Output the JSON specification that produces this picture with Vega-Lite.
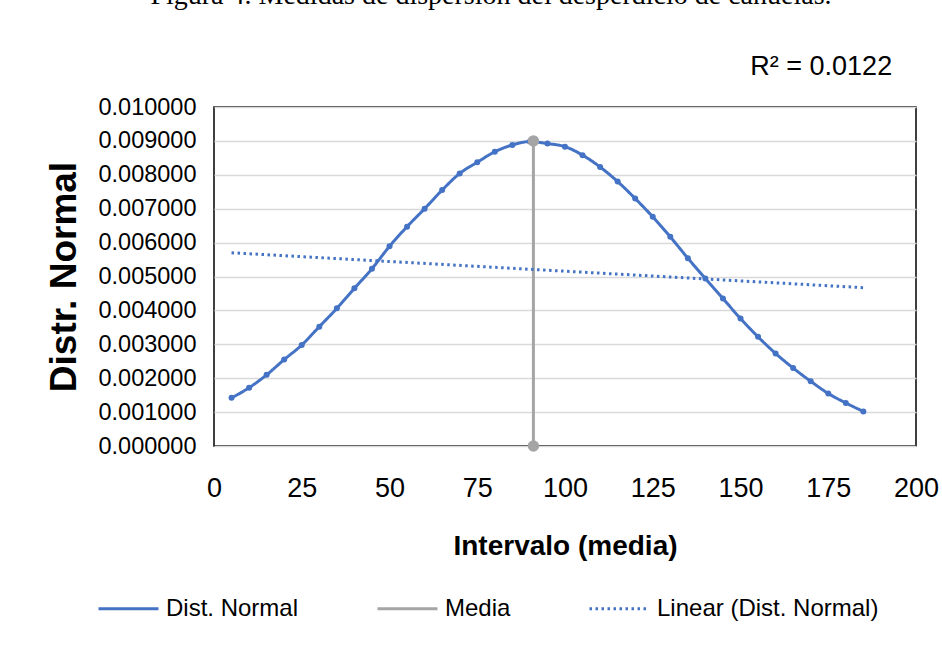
{
  "$schema": "https://vega.github.io/schema/vega-lite/v6.json",
  "width": 702,
  "height": 339,
  "autosize": {"type": "none"},
  "padding": {"left": 214, "top": 107, "right": 26, "bottom": 206},
  "background": "white",
  "title": {
    "text": "Figura 4. Medidas de dispersión del desperdicio de cañuelas.",
    "font": "Liberation Serif",
    "fontSize": 28,
    "fontWeight": "normal",
    "color": "#000",
    "anchor": "middle",
    "frame": "group",
    "baseline": "alphabetic",
    "offset": 21,
    "dx": -74
  },
  "datasets": {
    "serie": [
      {"serie": "Dist. Normal", "x": 5, "y": 0.00142},
      {"serie": "Dist. Normal", "x": 10, "y": 0.00172},
      {"serie": "Dist. Normal", "x": 15, "y": 0.0021},
      {"serie": "Dist. Normal", "x": 20, "y": 0.00255},
      {"serie": "Dist. Normal", "x": 25, "y": 0.00298},
      {"serie": "Dist. Normal", "x": 30, "y": 0.00352},
      {"serie": "Dist. Normal", "x": 35, "y": 0.00406},
      {"serie": "Dist. Normal", "x": 40, "y": 0.00465},
      {"serie": "Dist. Normal", "x": 45, "y": 0.00523},
      {"serie": "Dist. Normal", "x": 50, "y": 0.00589},
      {"serie": "Dist. Normal", "x": 55, "y": 0.00647},
      {"serie": "Dist. Normal", "x": 60, "y": 0.007},
      {"serie": "Dist. Normal", "x": 65, "y": 0.00755},
      {"serie": "Dist. Normal", "x": 70, "y": 0.00804},
      {"serie": "Dist. Normal", "x": 75, "y": 0.00837},
      {"serie": "Dist. Normal", "x": 80, "y": 0.00868},
      {"serie": "Dist. Normal", "x": 85, "y": 0.00888},
      {"serie": "Dist. Normal", "x": 90, "y": 0.00898},
      {"serie": "Dist. Normal", "x": 95, "y": 0.00892},
      {"serie": "Dist. Normal", "x": 100, "y": 0.00883},
      {"serie": "Dist. Normal", "x": 105, "y": 0.00858},
      {"serie": "Dist. Normal", "x": 110, "y": 0.00823},
      {"serie": "Dist. Normal", "x": 115, "y": 0.0078},
      {"serie": "Dist. Normal", "x": 120, "y": 0.0073},
      {"serie": "Dist. Normal", "x": 125, "y": 0.00676},
      {"serie": "Dist. Normal", "x": 130, "y": 0.00617},
      {"serie": "Dist. Normal", "x": 135, "y": 0.00554},
      {"serie": "Dist. Normal", "x": 140, "y": 0.00494},
      {"serie": "Dist. Normal", "x": 145, "y": 0.00435},
      {"serie": "Dist. Normal", "x": 150, "y": 0.00376},
      {"serie": "Dist. Normal", "x": 155, "y": 0.00322},
      {"serie": "Dist. Normal", "x": 160, "y": 0.00273},
      {"serie": "Dist. Normal", "x": 165, "y": 0.0023},
      {"serie": "Dist. Normal", "x": 170, "y": 0.00191},
      {"serie": "Dist. Normal", "x": 175, "y": 0.00155},
      {"serie": "Dist. Normal", "x": 180, "y": 0.00127},
      {"serie": "Dist. Normal", "x": 185, "y": 0.00102},
      {"serie": "Media", "x": 91, "y": 0},
      {"serie": "Media", "x": 91, "y": 0.009},
      {"serie": "Linear (Dist. Normal)", "x": 5, "y": 0.0057},
      {"serie": "Linear (Dist. Normal)", "x": 185, "y": 0.00467}
    ],
    "etiqueta": [
      {"x": 173, "y": 0.01118, "texto": "R² = 0.0122"}
    ]
  },
  "encoding": {
    "x": {
      "field": "x",
      "type": "quantitative",
      "scale": {"domain": [0, 200], "nice": false},
      "axis": {
        "title": "Intervalo (media)",
        "values": [0, 25, 50, 75, 100, 125, 150, 175, 200],
        "grid": false,
        "labelFontSize": 27,
        "labelPadding": 29,
        "labelFlush": false,
        "labelOverlap": false,
        "titleFontSize": 28,
        "titleFontWeight": "bold",
        "titlePadding": 31
      }
    },
    "y": {
      "field": "y",
      "type": "quantitative",
      "scale": {"domain": [0, 0.01], "nice": false},
      "axis": {
        "title": "Distr. Normal",
        "values": [0, 0.001, 0.002, 0.003, 0.004, 0.005, 0.006, 0.007, 0.008, 0.009, 0.01],
        "tickCount": 11,
        "format": ".6f",
        "labelFontSize": 23.5,
        "labelPadding": 18,
        "labelOverlap": false,
        "titleFontSize": 37,
        "titleFontWeight": "bold",
        "titlePadding": 14,
        "gridColor": "#D9D9D9",
        "gridWidth": 1.5
      }
    }
  },
  "layer": [
    {
      "data": {"name": "serie"},
      "mark": {"type": "line", "strokeWidth": 3, "interpolate": "monotone"},
      "encoding": {
        "detail": {"field": "serie"},
        "color": {
          "field": "serie",
          "type": "nominal",
          "scale": {
            "domain": ["Dist. Normal", "Media", "Linear (Dist. Normal)"],
            "range": ["#4472C4", "#A5A5A5", "#4472C4"]
          },
          "legend": {
            "orient": "none",
            "legendX": -117,
            "legendY": 470,
            "direction": "horizontal",
            "title": null
          }
        },
        "strokeDash": {
          "field": "serie",
          "type": "nominal",
          "scale": {
            "domain": ["Dist. Normal", "Media", "Linear (Dist. Normal)"],
            "range": [[1, 0], [1, 0], [2.5, 3.5]]
          },
          "legend": {
            "orient": "none",
            "legendX": -117,
            "legendY": 470,
            "direction": "horizontal",
            "title": null
          }
        }
      }
    },
    {
      "data": {"name": "serie"},
      "transform": [{"filter": "datum.serie === 'Dist. Normal'"}],
      "mark": {"type": "point", "filled": true, "opacity": 1, "size": 36, "color": "#4472C4"}
    },
    {
      "data": {"name": "serie"},
      "transform": [{"filter": "datum.serie === 'Media'"}],
      "mark": {"type": "point", "filled": true, "opacity": 1, "size": 130, "color": "#A5A5A5", "clip": false}
    },
    {
      "data": {"name": "etiqueta"},
      "mark": {
        "type": "text",
        "font": "Liberation Sans",
        "fontSize": 27,
        "color": "#000",
        "align": "center",
        "baseline": "middle"
      },
      "encoding": {
        "text": {"field": "texto"}
      }
    }
  ],
  "config": {
    "view": {"stroke": "#000", "strokeWidth": 1.5},
    "font": "Liberation Sans",
    "axis": {
      "labelFont": "Liberation Sans",
      "titleFont": "Liberation Sans",
      "labelColor": "#000",
      "titleColor": "#000",
      "domain": false,
      "ticks": false,
      "tickSize": 0
    },
    "legend": {
      "symbolType": "stroke",
      "symbolSize": 3600,
      "symbolStrokeWidth": 3,
      "labelFont": "Liberation Sans",
      "labelFontSize": 24,
      "labelColor": "#000",
      "labelLimit": 400,
      "labelOffset": 6,
      "columnPadding": 72
    }
  }
}
